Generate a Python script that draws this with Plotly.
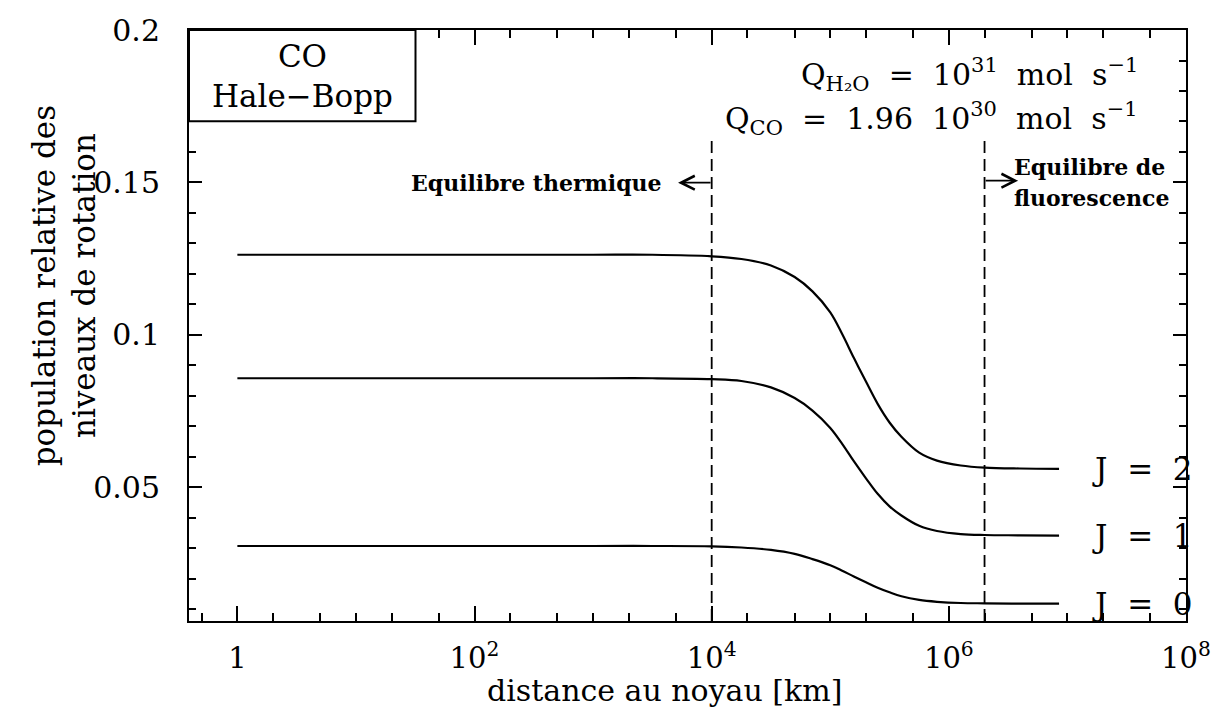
import math
import plotly.graph_objects as go

# Distance from the nucleus (km) and relative rotational level populations of CO
distance_km = [1, 10, 100, 1e3, 3.16e3, 1e4, 1.78e4, 3.16e4, 5.01e4, 7.08e4, 1e5,
               1.26e5, 1.58e5, 2e5, 2.51e5, 3.16e5, 3.98e5, 5.62e5, 7.94e5,
               1.26e6, 2e6, 3.98e6, 8.5e6]
pop_J0 = [0.0308, 0.0308, 0.0308, 0.0308, 0.0308, 0.0307, 0.0303, 0.0295, 0.0282,
          0.0265, 0.0245, 0.0227, 0.0208, 0.0189, 0.0171, 0.0156, 0.0143, 0.0131,
          0.0125, 0.0121, 0.0120, 0.0119, 0.0119]
pop_J1 = [0.0858, 0.0858, 0.0858, 0.0858, 0.0858, 0.0855, 0.0849, 0.0828, 0.0793,
          0.0752, 0.0695, 0.0643, 0.0586, 0.0530, 0.0479, 0.0438, 0.0408, 0.0374,
          0.0357, 0.0347, 0.0344, 0.0343, 0.0342]
pop_J2 = [0.1263, 0.1263, 0.1263, 0.1263, 0.1263, 0.1258, 0.1249, 0.1228, 0.1190,
          0.1143, 0.1074, 0.1003, 0.0925, 0.0847, 0.0774, 0.0713, 0.0666, 0.0614,
          0.0588, 0.0572, 0.0565, 0.0562, 0.0561]
level_labels = ["J = 0", "J = 1", "J = 2"]

# Limits of the thermal and fluorescence equilibrium regimes (km)
thermal_limit_km = 1e4
fluorescence_limit_km = 2e6
limit_top = 0.1646

x_tickvals = [1, 1e2, 1e4, 1e6, 1e8]
x_ticktext = ["1", "10<sup>2</sup>", "10<sup>4</sup>", "10<sup>6</sup>", "10<sup>8</sup>"]
y_tickvals = [0.05, 0.1, 0.15, 0.2]
y_ticktext = ["0.05", "0.1", "0.15", "0.2"]

X_RANGE = [-0.408, 8.0]
Y_RANGE = [0.0062, 0.2]

FONT = "DejaVu Serif"
W, H = 1223, 707
ML, MR, MT, MB = 189, 26, 25, 86
PW, PH = W - ML - MR, H - MT - MB


def px_x(px):
    return (px - ML) / PW


def px_y(py):
    return (H - MB - py) / PH


def log_to_paper(v):
    return (math.log10(v) - X_RANGE[0]) / (X_RANGE[1] - X_RANGE[0])


fig = go.Figure()

for ys in (pop_J0, pop_J1, pop_J2):
    fig.add_trace(go.Scatter(x=distance_km, y=ys, mode="lines",
                             line=dict(color="black", width=2.2, shape="spline", smoothing=1.0),
                             hoverinfo="skip", showlegend=False))

for lim in (thermal_limit_km, fluorescence_limit_km):
    fig.add_trace(go.Scatter(x=[lim, lim], y=[Y_RANGE[0], limit_top], mode="lines",
                             line=dict(color="black", width=1.8, dash="12px,6px"),
                             hoverinfo="skip", showlegend=False))

# minor ticks: 2 and 5 in each decade, plus the odd decades
minor_x = []
for k in range(-1, 8):
    minor_x += [2 * 10 ** k, 5 * 10 ** k]
    if k % 2 == 1:
        minor_x.append(10 ** k)
minor_y = [round(0.01 * i, 2) for i in range(1, 21) if i % 5 != 0]

axis_common = dict(showline=True, linecolor="black", linewidth=2, mirror="allticks",
                   ticks="inside", tickcolor="black", tickwidth=2, showgrid=False,
                   zeroline=False)

fig.update_xaxes(type="log", range=X_RANGE, tickmode="array", tickvals=x_tickvals,
                 ticktext=x_ticktext, ticklen=15, ticklabelstandoff=10,
                 tickfont=dict(family=FONT, size=29, color="black"),
                 minor=dict(tickmode="array", tickvals=minor_x, ticks="inside",
                            ticklen=8, tickwidth=2, tickcolor="black"),
                 **axis_common)
fig.update_yaxes(range=Y_RANGE, tickmode="array", tickvals=y_tickvals,
                 ticktext=y_ticktext, ticklen=13, ticklabelstandoff=21,
                 tickfont=dict(family=FONT, size=30, color="black"),
                 minor=dict(tickmode="array", tickvals=minor_y, ticks="inside",
                            ticklen=7, tickwidth=2, tickcolor="black"),
                 **axis_common)

ann = []
txt = dict(family=FONT, size=31, color="black")

# axis titles
ann.append(dict(x=px_x(670), y=px_y(691), xref="paper", yref="paper",
                text="distance au noyau [km]", showarrow=False,
                font=dict(family=FONT, size=30, color="black"),
                xanchor="center", yanchor="middle"))
ann.append(dict(x=px_x(62), y=px_y(283), xref="paper", yref="paper",
                text="population relative des<br>niveaux de rotation", showarrow=False,
                font=txt, textangle=-90, xanchor="center", yanchor="middle"))

# comet / molecule box
fig.add_shape(type="rect", xref="paper", yref="paper", x0=0, x1=px_x(418),
              y0=px_y(117), y1=1, line=dict(color="black", width=2), fillcolor="white")
ann.append(dict(x=px_x(304), y=px_y(71), xref="paper", yref="paper",
                text="CO<br>Hale\u2212Bopp", showarrow=False, font=txt,
                xanchor="center", yanchor="middle"))

# production rates
sp = "\u00a0\u00a0"
qfont = dict(family=FONT, size=30, color="black")
ann.append(dict(x=px_x(1150), y=px_y(70), xref="paper", yref="paper",
                text=f"Q<sub>H\u2082O</sub>{sp}={sp}10<sup>31</sup>{sp}mol{sp}s<sup>\u22121</sup>",
                showarrow=False, font=qfont, xanchor="right", yanchor="middle"))
ann.append(dict(x=px_x(1150), y=px_y(114), xref="paper", yref="paper",
                text=f"Q<sub>CO</sub>{sp}={sp}1.96{sp}10<sup>30</sup>{sp}mol{sp}s<sup>\u22121</sup>",
                showarrow=False, font=qfont, xanchor="right", yanchor="middle"))

# regime labels and arrows
small = dict(family=FONT, size=22, color="black", weight="bold")
ann.append(dict(x=px_x(669), y=px_y(179), xref="paper", yref="paper",
                text="Equilibre thermique", showarrow=False, font=small,
                xanchor="right", yanchor="middle"))
ann.append(dict(x=px_x(1021), y=px_y(163), xref="paper", yref="paper",
                text="Equilibre de", showarrow=False, font=small,
                xanchor="left", yanchor="middle"))
ann.append(dict(x=px_x(1021), y=px_y(194), xref="paper", yref="paper",
                text="fluorescence", showarrow=False, font=small,
                xanchor="left", yanchor="middle"))
arrow_len = 34
ann.append(dict(x=log_to_paper(thermal_limit_km) - arrow_len / PW, y=px_y(179),
                xref="paper", yref="paper", text="", showarrow=True,
                ax=arrow_len, ay=0, arrowhead=5, arrowsize=1.5, arrowwidth=1.8,
                arrowcolor="black"))
ann.append(dict(x=log_to_paper(fluorescence_limit_km) + arrow_len / PW, y=px_y(177),
                xref="paper", yref="paper", text="", showarrow=True,
                ax=-arrow_len, ay=0, arrowhead=5, arrowsize=1.5, arrowwidth=1.8,
                arrowcolor="black"))

# level labels at the end of each curve
for lab, ys in zip(level_labels, (pop_J0, pop_J1, pop_J2)):
    ann.append(dict(x=math.log10(distance_km[-1]) + 0.26, y=ys[-1], xref="x", yref="y",
                    text=lab.replace(" ", "\u00a0\u00a0"), showarrow=False, font=txt,
                    xanchor="left", yanchor="middle"))

fig.update_layout(width=W, height=H, margin=dict(l=ML, r=MR, t=MT, b=MB),
                  paper_bgcolor="white", plot_bgcolor="white", annotations=ann,
                  font=dict(family=FONT, color="black"))

fig.write_html("out.html")
